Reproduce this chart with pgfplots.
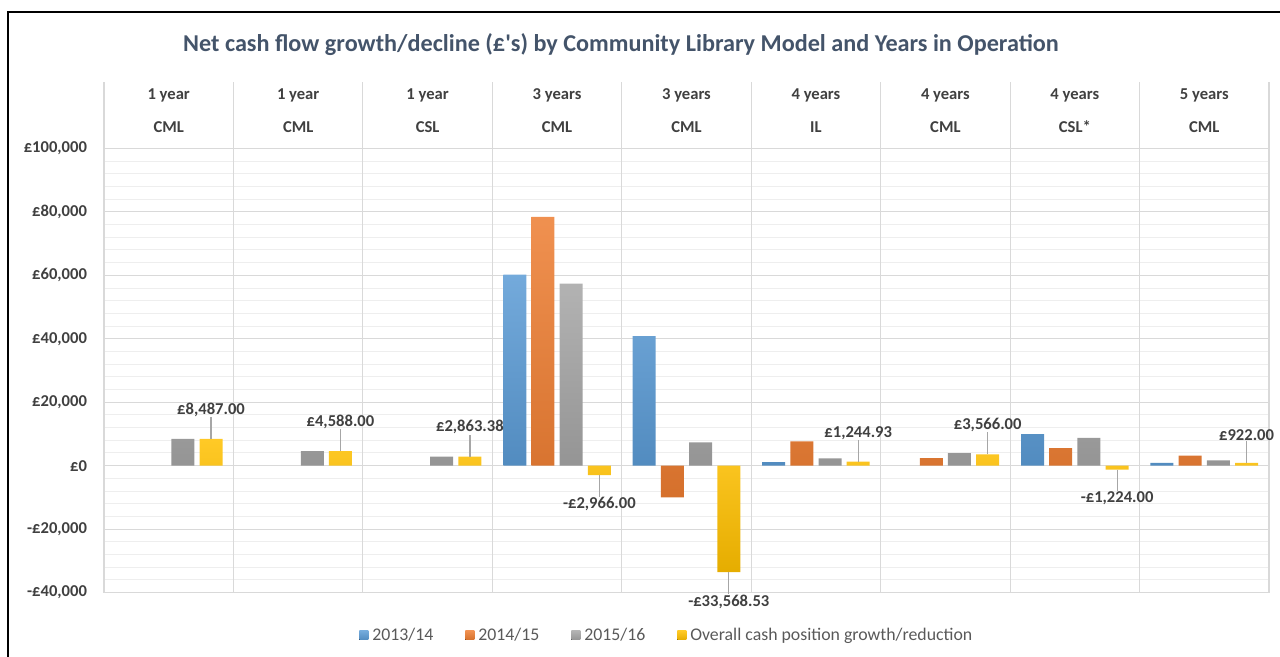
\documentclass[border=0pt]{standalone}
\usepackage{fontspec}
\setmainfont{Carlito}
\usepackage{pgfplots}
\pgfplotsset{compat=1.18}

\definecolor{s1}{HTML}{5B9BD5}
\definecolor{s2}{HTML}{ED7D31}
\definecolor{s3}{HTML}{A5A5A5}
\definecolor{s4}{HTML}{FFC000}
\definecolor{txt}{HTML}{404040}
\definecolor{ttl}{HTML}{44546A}
\definecolor{legtxt}{HTML}{595959}
\definecolor{gridc}{HTML}{D9D9D9}
\definecolor{minorc}{HTML}{EEEEEE}
\definecolor{leader}{HTML}{A6A6A6}

\newcommand{\sm}{\fontsize{8.3}{10}\selectfont}

\begin{document}
\begin{tikzpicture}
\useasboundingbox (0,0) rectangle (640pt,328.5pt);
\draw[line width=1pt] (4pt,0) -- (4pt,322.5pt) -- (640pt,322.5pt);
\node[font=\bfseries\fontsize{12.1}{14}\selectfont, text=ttl] at (310.5pt,306pt)
  {Net cash flow growth/decline (£\textquotesingle s) by Community Library Model and Years in Operation};

\begin{axis}[
  at={(52pt,32.2pt)}, anchor=south west,
  scale only axis, width=582.5pt, height=255.4pt,
  xmin=0.5, xmax=9.5, ymin=-40000, ymax=121000,
  scaled ticks=false,
  axis line style={draw=none},
  major tick length=0pt, minor tick length=0pt,
  xtick={1,...,9},
  xticklabels={{1 year\\[6.5pt]CML},{1 year\\[6.5pt]CML},{1 year\\[6.5pt]CSL},
    {3 years\\[6.5pt]CML},{3 years\\[6.5pt]CML},{4 years\\[6.5pt]IL},
    {4 years\\[6.5pt]CML},{4 years\\[6.5pt]CSL*},{5 years\\[6.5pt]CML}},
  xticklabel pos=right,
  xticklabel style={anchor=north, align=center, font=\bfseries\sm, text=txt},
  extra x ticks={0.5,1.5,...,9.5},
  extra x tick labels={},
  extra x tick style={grid=major},
  ytick={-40000,-20000,0,20000,40000,60000,80000,100000},
  yticklabels={{-£40,000},{-£20,000},{£0},{£20,000},{£40,000},{£60,000},{£80,000},{£100,000}},
  minor ytick={-36000,-32000,-28000,-24000,-16000,-12000,-8000,-4000,
    4000,8000,12000,16000,24000,28000,32000,36000,44000,48000,52000,56000,
    64000,68000,72000,76000,84000,88000,92000,96000},
  ymajorgrids, yminorgrids,
  major grid style={color=gridc, line width=0.6pt},
  minor grid style={color=minorc, line width=0.5pt},
  yticklabel style={font=\bfseries\sm, text=txt, xshift=-5pt},
  bar width=11.5pt,
  clip=false,
  legend columns=4,
  legend image code/.code={\fill[#1] (0pt,-2.25pt) rectangle (4.5pt,2.25pt);},
  legend style={at={(0.484,-0.084)}, anchor=center, draw=none, fill=none,
    font=\fontsize{8.9}{10}\selectfont, text=legtxt,
    /tikz/every even column/.append style={column sep=14pt}},
]
\addplot[ybar, bar shift=-21.15pt, draw=none, top color=s1!85!white, bottom color=s1!90!black]
  coordinates {(4,60250) (5,40800) (6,1150) (8,9970) (9,850)};
\addlegendentry{2013/14}
\addplot[ybar, bar shift=-7.05pt, draw=none, top color=s2!85!white, bottom color=s2!90!black]
  coordinates {(4,78450) (5,-9960) (6,7650) (7,2400) (8,5560) (9,3140)};
\addlegendentry{2014/15}
\addplot[ybar, bar shift=7.05pt, draw=none, top color=s3!85!white, bottom color=s3!90!black]
  coordinates {(1,8487) (2,4588) (3,2863.38) (4,57400) (5,7340) (6,2300) (7,3980) (8,8800) (9,1680)};
\addlegendentry{2015/16}
\addplot[ybar, bar shift=21.15pt, draw=none, top color=s4!85!white, bottom color=s4!90!black]
  coordinates {(1,8487) (2,4588) (3,2863.38) (4,-2966) (5,-33568.53) (6,1244.93) (7,3566) (8,-1224) (9,922)};
\addlegendentry{Overall cash position growth/reduction}

% data labels with leader lines: growth (above) and reduction (below)
\addplot[forget plot, draw=none, mark=none, point meta=explicit symbolic,
  nodes near coords,
  every node near coord/.append style={font=\bfseries\sm, text=txt, anchor=south,
    inner ysep=11pt, xshift=21.15pt},
  error bars/.cd, y dir=plus, y fixed=6900, error mark=none,
  error bar style={color=leader, line width=0.6pt, xshift=21.15pt}]
  coordinates {(1,8487) [£8,487.00] (2,4588) [£4,588.00] (3,2863.38) [£2,863.38]
    (6,1244.93) [£1,244.93] (7,3566) [£3,566.00] (9,922) [£922.00]};
\addplot[forget plot, draw=none, mark=none, point meta=explicit symbolic,
  nodes near coords,
  every node near coord/.append style={font=\bfseries\sm, text=txt, anchor=north,
    inner ysep=11pt, xshift=21.15pt},
  error bars/.cd, y dir=minus, y fixed=6900, error mark=none,
  error bar style={color=leader, line width=0.6pt, xshift=21.15pt}]
  coordinates {(4,-2966) [-£2,966.00] (5,-33568.53) [-£33,568.53] (8,-1224) [-£1,224.00]};
\end{axis}
\end{tikzpicture}
\end{document}
